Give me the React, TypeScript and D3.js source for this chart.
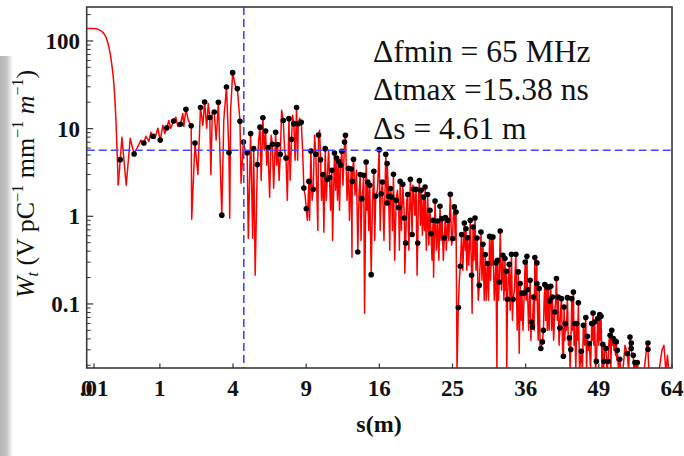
import React from 'react';
import * as d3 from 'd3';

// ---------- data ----------
const xTickValues = [0, 0.01, 1, 4, 9, 16, 25, 36, 49, 64];
const xTickLabels = ['0', '.01', '1', '4', '9', '16', '25', '36', '49', '64'];
const yTickValues = [0.1, 1, 10, 100];
const yTickLabels = ['0.1', '1', '10', '100'];
const annotations = ['Δfmin = 65 MHz', 'Δtmax =15.38 ns', 'Δs = 4.61 m'];
const markerS = 4.61;
const markerW = 5.66;

// smooth head of the wake (s in m, W)
const lineHead: [number, number][] = [
  [0, 139], [0.0074, 139], [0.0295, 134], [0.0494, 125], [0.0693, 110], [0.0926, 84.5],
  [0.119, 52.7], [0.139, 31.2], [0.16, 12.4], [0.174, 4.96], [0.186, 2.26],
];

// sampled points (black dots)
const dotsA: [number, number][] = [
  [0.21, 4.43], [0.42, 5.13], [0.61, 6.85], [0.82, 8.17], [1.01, 7.4], [1.2, 10.2], [1.41, 12.2],
  [1.64, 11.2], [1.84, 16.6], [2.04, 10.8], [2.19, 6.85], [2.42, 17.4], [2.6, 20.1], [2.83, 13.4],
  [3.04, 15.5], [3.24, 20], [3.41, 1.03], [3.65, 29.8], [3.78, 5.33], [3.98, 43.5], [4.24, 28.6],
  [4.39, 12.1], [4.59, 7.03], [4.81, 5.3], [5.02, 8.77],
];
const dotsB: [number, number][] = [
  [5.21, 5.91], [5.44, 3.89], [5.61, 10.4], [5.8, 13.3], [5.98, 9.4], [6.14, 6.07], [6.44, 6.62],
  [6.67, 9.08], [6.81, 6.57], [7.0, 5.1], [7.22, 12.4], [7.42, 4.62], [7.64, 13.0], [7.84, 7.55],
  [8.02, 11.4], [8.23, 17.4], [8.36, 11.4], [8.6, 11.8], [8.81, 2.1], [9.01, 1.22], [9.22, 2.5],
  [9.39, 5.55], [9.59, 2.03], [9.81, 5.1], [10.04, 8.45], [10.22, 4.43], [10.42, 2.99], [10.63, 5.91],
  [10.81, 2.64], [11.02, 2.76], [11.23, 3.35], [11.47, 5.27], [11.66, 4.62], [11.85, 4.24], [12.04, 3.82],
  [12.16, 5.51], [12.42, 7.03], [12.51, 8.39], [12.8, 3.53], [13.07, 3.46], [13.17, 2.5], [13.3, 4.47],
  [13.73, 0.392], [13.97, 2.99], [14.14, 1.59], [14.34, 2.93], [14.59, 4.16], [14.76, 2.46], [14.97, 2.26],
  [15.12, 0.216], [15.4, 3.26], [15.61, 1.7], [15.98, 5.76], [16.2, 1.81], [16.34, 2.46], [16.71, 5.1],
  [16.86, 1.42], [16.86, 3.99], [17.04, 1.69],
];
const dotsC: [number, number][] = [
  [17.23, 2.07], [17.38, 1.66], [17.58, 3.01], [17.89, 1.52], [18.19, 1.26], [18.35, 2.5], [18.66, 2.32],
  [18.86, 0.957], [19.01, 0.496], [19.25, 1.77], [19.57, 2.64], [19.78, 0.62], [19.97, 2.03], [20.27, 2.03],
  [20.47, 0.496], [20.68, 2.55], [20.89, 1.98], [21.18, 1.66], [21.39, 2.16], [21.72, 1.77], [22.02, 1.17],
  [22.15, 0.635], [22.41, 0.9], [22.67, 1.49], [23.01, 0.884], [23.32, 1.3], [23.59, 0.94], [23.89, 0.566],
  [24.03, 0.97], [24.34, 0.9], [24.7, 1.78], [25.01, 0.557], [25.25, 1.28], [25.48, 1.12], [25.8, 0.091],
  [26.08, 0.269], [26.26, 0.62], [26.64, 0.84], [26.88, 0.72], [27.1, 0.57], [27.49, 0.9], [27.68, 0.212],
  [27.88, 0.755], [28.17, 0.957], [28.46, 0.566], [28.79, 0.163], [29.04, 0.662], [29.34, 0.48],
  [29.68, 0.366], [30.02, 0.289], [30.32, 0.59], [30.62, 0.58], [30.83, 0.58], [31.29, 0.294],
  [31.53, 0.315], [31.79, 0.178], [31.95, 0.68], [32.36, 0.36], [32.68, 0.33], [32.88, 0.236],
  [33.08, 0.113], [33.35, 0.284], [33.71, 0.369], [33.98, 0.113], [34.41, 0.369], [34.78, 0.232],
  [35.1, 0.171], [35.38, 0.133], [35.76, 0.133],
];
const dotsD: [number, number][] = [
  [35.92, 0.301], [36.2, 0.35], [36.3, 0.146], [36.74, 0.186], [36.96, 0.0623], [37.12, 0.0547], [37.29, 0.12],
  [37.52, 0.338], [37.86, 0.294], [37.86, 0.171], [38.25, 0.15], [38.53, 0.031], [38.8, 0.0369],
  [38.97, 0.05], [39.21, 0.166], [39.48, 0.159], [39.78, 0.154], [40.07, 0.108], [40.24, 0.159],
  [40.52, 0.12], [40.94, 0.081], [41.22, 0.195], [41.52, 0.12], [41.82, 0.0532], [42.1, 0.115],
  [42.45, 0.0253], [42.58, 0.0925], [42.81, 0.0598], [43.17, 0.118], [43.53, 0.041], [43.78, 0.0302],
  [43.96, 0.115], [44.25, 0.137], [44.5, 0.0598], [44.87, 0.0598], [45.16, 0.103], [45.71, 0.0289],
  [46.09, 0.057], [46.53, 0.07], [46.83, 0.0428], [47.2, 0.0353], [47.65, 0.0598], [47.9, 0.079],
  [48.22, 0.0623], [48.53, 0.0222], [48.79, 0.0682], [49.17, 0.0757], [49.42, 0.0724], [49.75, 0.0347],
  [50.0, 0.0222], [50.39, 0.031], [50.78, 0.0222], [51.17, 0.044], [51.5, 0.05], [51.81, 0.0403],
  [52.09, 0.0379], [52.4, 0.0369], [52.6, 0.0296], [53.08, 0.0234], [54.6, 0.0272], [55.14, 0.042],
  [55.4, 0.0359], [55.4, 0.031], [55.81, 0.026], [56.16, 0.0215], [56.63, 0.0215], [58.85, 0.0359],
  [58.85, 0.0304],
];

// extra vertices of the red trace (dips and peaks between the dots)
const traceA: [number, number][] = [
  [0.232, 7.96], [0.292, 2.26], [0.354, 7.75], [0.49, 6.28], [0.549, 7.4], [0.655, 8.17], [0.723, 7.16],
  [0.77, 9.08], [0.868, 7.75], [0.946, 10.1], [1.083, 10.9], [1.141, 8.8], [1.26, 12.4], [1.32, 10.1],
  [1.484, 13.5], [1.551, 10.6], [1.726, 14.9], [1.762, 10.6], [1.93, 12.4], [2.06, 0.925], [2.31, 3.0],
  [2.52, 10.9], [2.69, 10.1], [2.761, 19.4], [2.88, 3.0], [2.945, 15.3], [3.13, 7.4], [3.51, 12.4],
  [3.822, 0.95], [3.87, 16.2], [4.12, 31.2], [4.45, 2.38], [4.69, 5.66], [4.88, 0.561],
];
const traceB: [number, number][] = [
  [5.147, 0.561], [5.303, 0.212], [5.525, 7.4], [5.687, 2.57], [5.884, 5.66], [6.05, 3.82], [6.253, 1.65],
  [6.356, 8.39], [6.529, 2.09], [6.74, 3.82], [6.918, 2.57], [7.099, 16.2], [7.319, 5.66], [7.52, 1.52],
  [7.731, 2.57], [7.921, 14.2], [8.114, 4.35], [8.31, 4.35], [8.468, 13.1], [8.708, 5.66], [8.91, 1.74],
  [9.099, 0.9], [9.281, 0.9], [9.49, 1.52], [9.701, 8.39], [9.983, 0.69], [10.13, 9.57], [10.3, 1.52],
  [10.51, 0.657], [10.72, 1.52], [10.93, 5.66], [11.11, 1.17], [11.29, 0.53], [11.57, 1.98], [11.75, 1.52],
  [11.94, 1.17], [12.27, 2.26], [12.66, 1.52], [12.9, 0.9], [13.15, 0.341], [13.45, 1.74], [13.6, 3.35],
  [13.85, 1.74], [14.06, 0.53], [14.24, 1.98], [14.42, 0.0783], [14.68, 1.17], [14.86, 0.69], [15.26, 1.52],
  [15.5, 0.53], [15.79, 1.98], [16.09, 0.69], [16.51, 0.53], [17.16, 0.41],
];
const traceC: [number, number][] = [
  [17.46, 0.69], [17.72, 0.315], [18.04, 1.98], [18.27, 0.41], [18.5, 0.69], [18.9, 0.224], [19.13, 1.52],
  [19.39, 0.41], [19.88, 2.26], [20.12, 1.03], [20.39, 0.212], [20.55, 1.52], [20.8, 0.79], [21.05, 0.61],
  [21.3, 0.69], [21.55, 0.41], [21.87, 0.47], [22.28, 0.315], [22.48, 0.202], [22.84, 0.41], [23.17, 0.315],
  [23.46, 0.53], [23.76, 0.315], [24.16, 0.41], [24.5, 0.53], [24.88, 0.47], [25.11, 1.03], [25.38, 0.53],
  [25.62, 0.0175], [25.94, 0.186], [26.17, 0.41], [26.43, 0.242], [26.78, 0.41], [26.99, 0.242],
  [27.27, 0.276], [27.75, 0.0783], [28.02, 0.315], [28.31, 0.242], [28.64, 0.11], [28.94, 0.315],
  [29.19, 0.186], [29.53, 0.11], [29.82, 0.11], [30.17, 0.11], [30.47, 0.186], [30.72, 0.276], [31.03, 0.11],
  [31.44, 0.0175], [31.67, 0.11], [32.15, 0.143], [32.52, 0.11], [32.77, 0.143], [32.96, 0.0175],
  [33.19, 0.186], [33.51, 0.085], [33.86, 0.065], [34.17, 0.143], [34.62, 0.05], [34.95, 0.0274],
  [35.27, 0.065], [35.56, 0.05], [36.08, 0.11],
];
const traceD: [number, number][] = [
  [36.49, 0.05], [36.86, 0.0385], [37.41, 0.05], [37.69, 0.11], [38.08, 0.0385], [38.41, 0.0296],
  [39.09, 0.11], [39.35, 0.065], [39.64, 0.05], [39.95, 0.05], [40.38, 0.05], [40.73, 0.0385], [41.08, 0.11],
  [41.38, 0.065], [41.69, 0.0338], [41.96, 0.085], [42.31, 0.0296], [42.7, 0.0385], [42.99, 0.05],
  [43.35, 0.0338], [43.65, 0.0175], [44.1, 0.05], [44.38, 0.0338], [44.69, 0.0175], [45.02, 0.0385],
  [45.38, 0.0175], [45.9, 0.0175], [46.31, 0.0338], [46.68, 0.0175], [47.02, 0.0296], [47.43, 0.0175],
  [47.77, 0.0385], [48.05, 0.0338], [48.37, 0.0175], [48.66, 0.0385], [48.98, 0.0338], [49.29, 0.0385],
  [49.61, 0.0175], [49.86, 0.0175], [50.19, 0.0338], [50.58, 0.0175], [50.97, 0.0385], [51.32, 0.0175],
  [51.65, 0.0338], [51.95, 0.0296], [52.24, 0.026], [52.5, 0.0228], [52.84, 0.0175], [53.33, 0.0175],
  [53.73, 0.0175], [54.13, 0.0338], [54.84, 0.0175], [55.28, 0.0296], [55.55, 0.026], [55.95, 0.0175],
  [56.36, 0.0175], [56.88, 0.0167], [58.01, 0.0167], [58.64, 0.0338], [59.06, 0.0167], [61.17, 0.0167],
  [61.81, 0.0296], [62.25, 0.0338], [62.68, 0.0167], [63.0, 0.026], [63.33, 0.0167],
];

// ---------- layout ----------
const W = 684, H = 456;
const L = 86.7, R = 672, T = 7, B = 368;

export default function App() {
  const x = d3.scaleSqrt().domain([0, 64]).range([L, R]);
  const y = d3.scaleLog().domain([0.0186, 244]).range([B, T]);

  const dots = [...dotsA, ...dotsB, ...dotsC, ...dotsD];
  const body = [lineHead[lineHead.length - 1], ...dots, ...traceA, ...traceB, ...traceC, ...traceD]
    .slice()
    .sort((a, b) => a[0] - b[0]);

  const headPath = d3.line<[number, number]>().x(d => x(d[0])).y(d => y(d[1])).curve(d3.curveMonotoneX)(lineHead) || '';
  const bodyPath = d3.line<[number, number]>().x(d => x(d[0])).y(d => y(d[1]))(body) || '';

  const minor: number[] = [];
  [0.01, 0.1, 1, 10, 100].forEach(dec => {
    for (let k = 2; k <= 9; k++) {
      const v = k * dec;
      if (v >= 0.0186 && v <= 244) minor.push(v);
    }
  });

  const serif = '"Liberation Serif", "Times New Roman", serif';

  return (
    <svg width={W} height={H} style={{ position: 'absolute', left: 0, top: 0, background: '#fff' }}
      xmlns="http://www.w3.org/2000/svg">
      <defs>
        <clipPath id="plot"><rect x={L} y={T} width={R - L} height={B - T} /></clipPath>
        <linearGradient id="strip" x1="0" x2="1" y1="0" y2="0">
          <stop offset="0" stopColor="#b5b5b5" />
          <stop offset="0.5" stopColor="#c4c4c4" />
          <stop offset="1" stopColor="#ffffff" />
        </linearGradient>
      </defs>
      <rect x={0} y={0} width={W} height={H} fill="#fff" />
      <rect x={0} y={56} width={13} height={H - 56} fill="url(#strip)" />

      <g clipPath="url(#plot)">
        <path d={headPath} fill="none" stroke="#ff0000" strokeWidth={1.5} />
        <path d={bodyPath} fill="none" stroke="#ff0000" strokeWidth={1.5} strokeLinejoin="round" />
        {dots.map((d, i) => (
          <circle key={i} cx={x(d[0])} cy={y(d[1])} r={2.8} fill="#000" />
        ))}
        <line x1={x(markerS)} x2={x(markerS)} y1={T} y2={B} stroke="#4545ff" strokeWidth={1.6} strokeDasharray="8,4" />
        <line x1={L} x2={R} y1={y(markerW)} y2={y(markerW)} stroke="#4545ff" strokeWidth={1.6} strokeDasharray="8,4" />
      </g>

      {/* frame */}
      <rect x={L} y={T} width={R - L} height={B - T} fill="none" stroke="#3a3a3a" strokeWidth={1.6} />

      {/* y ticks */}
      {yTickValues.map((v, i) => (
        <g key={'yt' + i}>
          <line x1={L} x2={L + 6.5} y1={y(v)} y2={y(v)} stroke="#333" strokeWidth={1.2} />
          <text x={80} y={y(v)} dy="0.35em" textAnchor="end" fontFamily={serif} fontSize={23} fontWeight="bold" fill="#111">
            {yTickLabels[i]}
          </text>
        </g>
      ))}
      {minor.map((v, i) => (
        <line key={'ym' + i} x1={L} x2={L + 4} y1={y(v)} y2={y(v)} stroke="#333" strokeWidth={1} />
      ))}

      {/* x ticks */}
      {xTickValues.map((v, i) => (
        <g key={'xt' + i}>
          <line x1={x(v)} x2={x(v)} y1={B} y2={B - 4.5} stroke="#333" strokeWidth={1.2} />
          <text x={x(v)} y={396} textAnchor="middle" fontFamily={serif} fontSize={23} fontWeight="bold" fill="#111">
            {xTickLabels[i]}
          </text>
        </g>
      ))}

      {/* axis titles */}
      <text x={379} y={432} textAnchor="middle" fontFamily={serif} fontSize={24} fontWeight="bold" fill="#111">s(m)</text>
      <text transform="translate(34,184) rotate(-90)" textAnchor="middle" fontFamily={serif} fontSize={26} fill="#111">
        <tspan fontStyle="italic">W</tspan>
        <tspan fontStyle="italic" fontSize={16} dy={4}>t</tspan>
        <tspan dy={-4}>{' (V pC'}</tspan>
        <tspan fontSize={16} dy={-11}>−1</tspan>
        <tspan dy={11}>{' mm'}</tspan>
        <tspan fontSize={16} dy={-11}>−1</tspan>
        <tspan dy={11}>{' '}</tspan>
        <tspan fontStyle="italic">m</tspan>
        <tspan fontSize={16} dy={-11}>−1</tspan>
        <tspan dy={11}>)</tspan>
      </text>

      {/* annotations */}
      {annotations.map((t, i) => (
        <text key={'an' + i} x={373} y={62 + i * 38.3} fontFamily={serif} fontSize={31.5} fill="#111">{t}</text>
      ))}
    </svg>
  );
}
